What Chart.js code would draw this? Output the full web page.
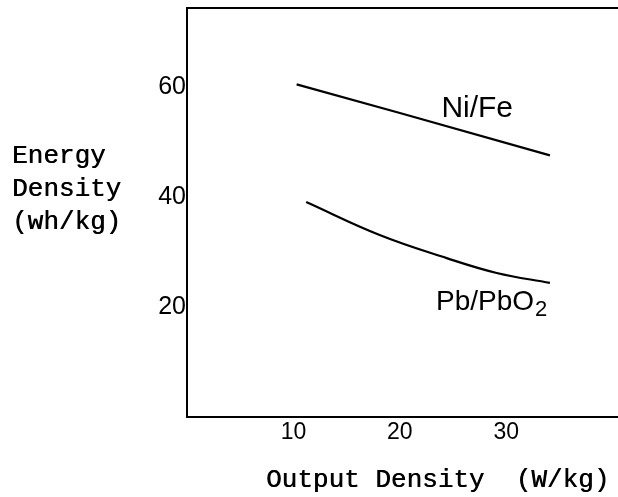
<!DOCTYPE html>
<html>
<head>
<meta charset="utf-8">
<script src="https://cdn.jsdelivr.net/npm/chart.js@4"></script>
<style>
  html, body { margin: 0; padding: 0; background: #fff; }
  #wrap { width: 618px; height: 497px; }
</style>
</head>
<body>
<div id="wrap"><canvas id="chart" width="618" height="497"></canvas></div>
<script>
// values
const niFeX = [10.3, 20, 34.1];
const niFeY = [60.5, 55.3, 47.6];
const pbX = [11.2, 18.1, 24.4, 29.1, 34.1];
const pbY = [39.1, 33.1, 28.9, 26.2, 24.4];
const xTicks = [10, 20, 30];
const yTicks = [20, 40, 60];
const yTitle = ['Energy', 'Density', '(wh/kg)'];
const xTitle = 'Output Density  (W/kg)';

const toPoints = (xs, ys) => xs.map((x, i) => ({ x: x, y: ys[i] }));

// frame, axis titles and curve labels
const extras = {
    id: 'extras',
    afterDraw(chart) {
        const { ctx, chartArea, scales } = chart;
        ctx.save();
        ctx.strokeStyle = '#000';
        ctx.lineWidth = 2;
        ctx.beginPath();
        ctx.moveTo(chartArea.left, chartArea.top);
        ctx.lineTo(chart.width, chartArea.top);
        ctx.stroke();

        ctx.fillStyle = '#000';
        ctx.textBaseline = 'alphabetic';
        ctx.textAlign = 'left';
        ctx.font = '26px "Liberation Mono", monospace';
        yTitle.forEach((t, i) => {
            ctx.fillText(t, 12, 163 + i * 33);
            ctx.fillText(t, 12.5, 163 + i * 33);
        });
        ctx.fillText(xTitle, 266, 487);
        ctx.fillText(xTitle, 266.5, 487);

        ctx.font = '30px "Liberation Sans", sans-serif';
        ctx.fillText('Ni/Fe', scales.x.getPixelForValue(23.9), scales.y.getPixelForValue(54.5));
        ctx.font = '28px "Liberation Sans", sans-serif';
        const px = scales.x.getPixelForValue(23.4);
        const py = scales.y.getPixelForValue(19.5);
        ctx.fillText('Pb/PbO', px, py);
        const w = ctx.measureText('Pb/PbO').width;
        ctx.font = '22px "Liberation Sans", sans-serif';
        ctx.fillText('2', px + w + 1, py + 6);
        ctx.restore();
    }
};

new Chart(document.getElementById('chart'), {
    type: 'scatter',
    data: {
        datasets: [
            { label: 'Ni/Fe', data: toPoints(niFeX, niFeY) },
            { label: 'Pb/PbO2', data: toPoints(pbX, pbY), tension: 0.4 }
        ]
    },
    options: {
        responsive: false,
        animation: false,
        showLine: true,
        elements: {
            point: { radius: 0 },
            line: { borderColor: '#000', borderWidth: 2.2, fill: false }
        },
        layout: { padding: { top: 8, right: 1, left: 0, bottom: 0 } },
        plugins: { legend: { display: false }, tooltip: { enabled: false } },
        scales: {
            x: {
                type: 'linear',
                min: 0,
                max: 40.4,
                afterFit: s => { s.height = 80; s.paddingLeft = 0; s.paddingRight = 0; },
                afterBuildTicks: s => { s.ticks = xTicks.map(v => ({ value: v })); },
                grid: { display: false, drawTicks: false },
                border: { color: '#000', width: 2 },
                ticks: { color: '#000', padding: 2, font: { family: 'Liberation Sans', size: 23 } }
            },
            y: {
                type: 'linear',
                min: 0,
                max: 74.4,
                afterFit: s => { s.width = 187; s.paddingTop = 0; s.paddingBottom = 0; },
                afterBuildTicks: s => { s.ticks = yTicks.map(v => ({ value: v })); },
                grid: { display: false, drawTicks: false },
                border: { color: '#000', width: 2 },
                ticks: { color: '#000', padding: 1, font: { family: 'Liberation Sans', size: 25 } }
            }
        }
    },
    plugins: [extras]
});
</script>
</body>
</html>
